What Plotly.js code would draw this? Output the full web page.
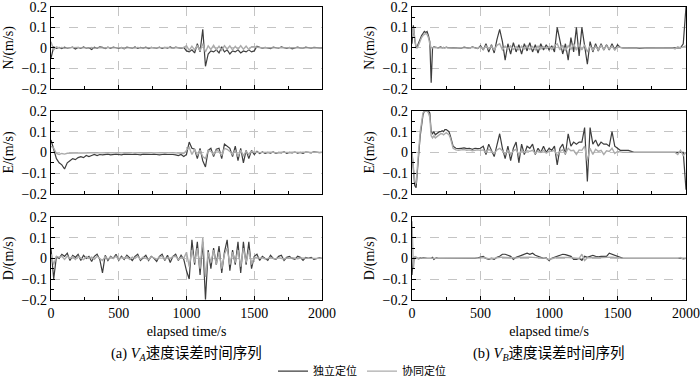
<!DOCTYPE html>
<html>
<head>
<meta charset="utf-8">
<script src="https://cdn.plot.ly/plotly-3.0.1.min.js"></script>
<style>html,body{margin:0;padding:0;background:#fff}#chart{width:700px;height:386px}</style>
</head>
<body>
<div id="chart"></div>
<script>
// time grids (s)
const timeA = []; for (let t = 0; t <= 2000; t += 20) timeA.push(t);
const timeB = []; for (let t = 0; t <= 300; t += 10) timeB.push(t); for (let t = 320; t <= 2000; t += 20) timeB.push(t);

const seriesNames = ['独立定位', '协同定位'];
const panelTitles = ['N/(m/s)', 'E/(m/s)', 'D/(m/s)'];
const xTickVals = [0, 500, 1000, 1500, 2000];
const yTickVals = [-0.2, -0.1, 0, 0.1, 0.2];
const yTickText = ['\u22120.2', '\u22120.1', '0', '0.1', '0.2'];
const captionA = '(a) <i>V</i><sub><i>A</i></sub>速度误差时间序列';
const captionB = '(b) <i>V</i><sub><i>B</i></sub>速度误差时间序列';
const xTitle = 'elapsed time/s';

// ---- (a) V_A ----
const aN_indep = [
 -0.05, 0.004, -0.003, 0.002, -0.004, 0.003, -0.002, 0.0, 0.003, -0.006,
 0.002, -0.003, 0.004, -0.002, 0.001, -0.008, 0.003, -0.002, 0.005, 0.002,
 -0.004, 0.003, -0.002, 0.004, 0.0, -0.003, 0.002, -0.005, 0.003, 0.001,
 -0.002, 0.004, -0.003, 0.002, -0.001, 0.003, -0.004, 0.002, 0.0, -0.002,
 0.003, -0.003, 0.002, -0.001, 0.004, -0.002, 0.003, 0.0, -0.003, 0.002,
 -0.015, -0.02, -0.01, -0.025, 0.02, -0.02, 0.09, -0.09, -0.03, -0.015,
 -0.02, -0.01, -0.025, 0.005, -0.02, -0.01, -0.03, -0.015, -0.02, -0.01,
 -0.025, -0.015, -0.02, -0.01, -0.02, -0.015,
 0.008, 0.003, -0.002, 0.002, 0.0, -0.004, 0.003, 0.0, -0.002, 0.005,
 0.0, -0.003, 0.002, -0.005, 0.0, 0.003, 0.0, -0.002, 0.003, 0.0,
 -0.002, 0.002, 0.0, 0.0, 0.0];
const aN_coop = [
 0.03, -0.01, 0.005, 0, 0.002, -0.002, 0, 0.001, -0.001, 0,
 0.002, 0, -0.001, 0.001, 0, 0.002, -0.002, 0, 0.001, 0,
 -0.001, 0.002, 0, -0.001, 0.001, 0, 0.001, -0.002, 0, 0.001,
 0, -0.001, 0.002, 0, -0.001, 0.001, 0, 0.002, -0.001, 0,
 0.001, -0.001, 0, 0.002, 0, -0.002, 0.001, 0, -0.001, 0.002,
 0.01, -0.012, 0.008, -0.01, 0.012, -0.015, 0.02, -0.02, 0.01, -0.008,
 0.012, -0.01, 0.008, -0.012, 0.01, -0.006, 0.009, -0.01, 0.007, -0.008,
 0.01, -0.007, 0.008, -0.009, 0.006, 0.005,
 0.002, 0, -0.001, 0.001, 0, 0.001, -0.001, 0, 0.001, 0,
 -0.001, 0, 0.001, 0, 0, 0.001, 0, -0.001, 0, 0.001,
 0, 0, 0, 0, 0];
const aE_indep = [
 0.06, 0.01, -0.03, -0.05, -0.06, -0.08, -0.05, -0.04, -0.03, -0.035,
 -0.025, -0.02, -0.025, -0.015, -0.02, -0.015, -0.01, -0.015, -0.01, -0.012,
 -0.01, -0.008, -0.012, -0.01, -0.008, -0.01, -0.012, -0.008, -0.01, -0.009,
 -0.01, -0.008, -0.01, -0.012, -0.008, -0.01, -0.009, -0.01, -0.008, -0.01,
 -0.012, -0.01, -0.008, -0.01, -0.009, -0.01, -0.012, -0.015, -0.01, -0.02,
 -0.01, 0.05, 0.02, 0.015, -0.03, 0.02, -0.04, -0.07, 0.01, 0.02,
 -0.02, 0.015, 0.02, -0.03, 0.04, 0.03, 0.02, -0.02, 0.03, -0.04,
 0.02, -0.05, 0.01, -0.03, 0.01, -0.01,
 0.005, -0.005, 0.002, -0.004, 0.0, -0.003, 0.002, -0.005, 0.0, -0.002,
 0.003, -0.004, 0.0, -0.002, 0.002, -0.003, 0.0, -0.004, 0.002, 0.0,
 -0.002, 0.003, 0.0, -0.001, 0.0];
const aE_coop = [
 0.03, 0.02, -0.005, -0.01, -0.005, -0.008, -0.004, -0.003, -0.002, -0.004,
 -0.003, -0.002, -0.003, -0.002, -0.001, -0.002, -0.002, -0.001, -0.002, -0.001,
 -0.002, -0.001, -0.002, -0.001, -0.002, -0.001, -0.002, -0.001, -0.002, -0.001,
 -0.002, -0.001, -0.002, -0.001, -0.002, -0.001, -0.002, -0.001, -0.002, -0.001,
 -0.002, -0.001, -0.002, -0.001, -0.002, -0.001, -0.002, -0.003, -0.002, -0.005,
 0.01, 0.025, -0.01, 0.015, -0.015, 0.01, -0.02, -0.03, 0.01, 0.005,
 -0.01, 0.01, 0.005, -0.015, 0.02, 0.015, 0.005, -0.01, 0.01, -0.02,
 0.01, -0.015, 0.005, -0.01, 0.005, 0.0,
 0.002, -0.001, 0, 0.001, -0.001, 0, 0.001, -0.002, 0, 0.001,
 0, -0.001, 0, 0.001, 0, -0.001, 0, 0.001, 0, -0.001,
 0, 0.001, 0, 0, 0];
const aD_indep = [
 0.05, -0.1, 0.01, 0.0, 0.02, 0.01, 0.025, -0.01, 0.015, 0.005,
 0.02, -0.01, 0.015, 0.0, 0.01, -0.015, 0.01, 0.02, -0.005, -0.07,
 0.015, -0.01, 0.01, 0.0, 0.02, -0.01, 0.01, -0.005, 0.015, 0.0,
 -0.01, 0.01, 0.02, -0.01, 0.005, 0.015, -0.01, 0.01, 0.0, -0.015,
 0.01, 0.02, -0.01, 0.015, -0.02, 0.01, 0.02, -0.01, 0.015, -0.005,
 -0.06, -0.1, 0.09, -0.03, 0.08, -0.08, 0.08, -0.2, 0.04, -0.05,
 0.05, -0.03, 0.06, -0.07, 0.03, 0.09, -0.06, 0.04, -0.03, 0.08,
 -0.07, 0.08, -0.03, 0.08, -0.05, 0.01,
 0.02, -0.01, 0.01, 0.0, -0.01, 0.015, 0.0, -0.005, 0.01, 0.015,
 -0.01, 0.005, 0.01, 0.0, -0.005, 0.01, 0.005, -0.01, 0.005, 0.0,
 0.005, -0.005, 0.0, 0.002, 0.0];
const aD_coop = [
 0.02, -0.03, 0.01, 0.005, 0.01, -0.005, 0.01, 0.0, 0.008, -0.005,
 0.01, 0.0, -0.006, 0.008, 0.0, 0.006, -0.004, 0.01, 0.0, -0.01,
 0.008, -0.004, 0.006, 0.0, 0.01, -0.006, 0.004, 0.0, 0.008, -0.005,
 0.006, 0.0, 0.01, -0.004, 0.006, 0.0, -0.006, 0.008, 0.0, -0.004,
 0.006, 0.01, -0.005, 0.004, 0.0, 0.008, 0.01, -0.006, 0.005, 0.0,
 0.03, -0.04, 0.04, -0.02, 0.05, -0.05, 0.1, -0.09, 0.03, -0.02,
 0.04, -0.03, 0.03, -0.05, 0.02, 0.05, -0.03, 0.03, -0.02, 0.04,
 -0.04, 0.05, -0.02, 0.04, -0.03, 0.005,
 0.005, 0.0, 0.003, -0.003, 0.0, 0.004, 0.0, -0.002, 0.003, 0.0,
 -0.003, 0.002, 0.0, 0.003, 0.0, -0.002, 0.002, 0.0, 0.001, 0.0,
 0.001, 0.0, 0.0, 0.0, 0.0];

// ---- (b) V_B ----
const bN_indep = [
 0.02, 0.11, 0.04, 0.0, 0.01, 0.03, 0.05, 0.06, 0.07, 0.08,
 0.075, 0.08, 0.06, 0.03, -0.17, 0.0, 0.005, 0.002, 0.003, 0.0,
 0.002, 0.004, 0.0, 0.002, 0.0, 0.003, 0.001, 0.0, 0.002, 0.0, 0.001,
 0.0, 0.002, -0.002, 0.003, 0.0, -0.003, 0.005, 0.0, -0.004,
 0.01, -0.01, 0.02, -0.02, 0.015, -0.025, 0.04, 0.09, 0.03, -0.06,
 0.02, -0.03, 0.025, -0.02, 0.015, -0.03, 0.02, -0.015, 0.025, -0.02,
 0.015, -0.025, 0.02, -0.01, 0.015, -0.01,
 0.01, -0.02, 0.1, 0.03, -0.03, 0.02, -0.06, 0.05, -0.02, 0.1,
 -0.04, 0.1, 0.02, -0.08, 0.03, -0.02, 0.02, -0.015, 0.02, -0.01,
 0.015, -0.01, 0.02, -0.01, 0.015,
 0.002, 0.0, 0.0, 0.001, 0.0, 0.0, 0.0, -0.003, 0.0, 0.0,
 0.0, 0.0, 0.0, 0.001, 0.0, 0.0, 0.0, 0.0, 0.0, 0.0,
 0.0, 0.0, 0.0, 0.02, 0.2];
const bN_coop = [
 0.05, 0.1, 0.05, 0.0, 0.0, 0.02, 0.04, 0.05, 0.06, 0.065,
 0.07, 0.065, 0.05, 0.02, 0.0, 0.0, 0.002, 0.0, 0.002, 0.0,
 0.001, 0.002, 0.0, 0.001, 0.0, 0.002, 0.0, 0.0, 0.001, 0.0, 0.0,
 0.0, 0.001, -0.001, 0.002, 0.0, -0.002, 0.003, 0.0, -0.002,
 0.005, -0.008, 0.01, -0.006, 0.008, -0.01, 0.012, 0.02, -0.01, 0.008,
 -0.006, 0.01, -0.008, 0.006, -0.01, 0.008, -0.006, 0.01, -0.008, 0.006,
 -0.01, 0.008, -0.006, 0.005, -0.004, 0.006,
 -0.008, 0.01, 0.02, -0.01, 0.012, -0.015, 0.01, -0.008, 0.02, -0.012,
 0.02, -0.01, 0.015, -0.02, 0.01, -0.012, 0.008, -0.01, 0.012, -0.008,
 0.01, -0.006, 0.008, -0.01, 0.005,
 0.001, 0.0, 0.0, 0.0, 0.0, 0.0, 0.0, 0.0, 0.0, 0.0,
 0.0, 0.0, 0.0, 0.0, 0.0, 0.0, 0.0, 0.0, 0.0, 0.0,
 -0.005, 0.005, 0.0, 0.005, 0.01];
const bE_indep = [
 0.0, -0.08, -0.16, -0.17, -0.1, 0.0, 0.08, 0.14, 0.18, 0.2,
 0.2, 0.2, 0.2, 0.19, 0.1, 0.09, 0.1, 0.085, 0.09, 0.095,
 0.1, 0.1, 0.105, 0.1, 0.11, 0.11, 0.105, 0.1, 0.08, 0.05, 0.03,
 0.02, 0.018, 0.02, 0.022, 0.018, 0.02, 0.015, 0.02, 0.018,
 0.02, 0.03, -0.01, 0.04, 0.01, -0.02, 0.035, 0.09, 0.02, -0.03,
 0.03, -0.04, 0.02, 0.05, -0.05, 0.04, -0.01, 0.03, 0.02, 0.04,
 -0.01, 0.02, 0.0, 0.03, 0.0, 0.02,
 0.01, 0.03, -0.06, 0.02, 0.04, -0.01, 0.09, 0.03, 0.05, 0.04,
 0.05, 0.05, 0.12, -0.14, 0.12, 0.04, 0.06, 0.03, 0.05, 0.04,
 0.04, 0.03, 0.1, 0.03, 0.02,
 0.01, 0.01, 0.01, 0.01, 0.005, 0.0, 0.0, 0.0, 0.0, 0.0,
 0.0, 0.0, 0.0, 0.0, 0.0, 0.0, 0.0, 0.0, 0.0, 0.0,
 0.0, 0.0, 0.0, 0.0, -0.18];
const bE_coop = [
 0.0, -0.06, -0.14, -0.15, -0.08, 0.02, 0.1, 0.15, 0.19, 0.2,
 0.2, 0.2, 0.19, 0.17, 0.08, 0.07, 0.08, 0.07, 0.075, 0.08,
 0.085, 0.09, 0.09, 0.085, 0.09, 0.095, 0.09, 0.085, 0.07, 0.04, 0.02,
 0.012, 0.01, 0.012, 0.014, 0.01, 0.012, 0.008, 0.01, 0.012,
 0.01, 0.012, 0.0, 0.015, 0.005, -0.005, 0.012, 0.02, 0.008, -0.008,
 0.01, -0.01, 0.008, 0.015, -0.012, 0.01, 0.0, 0.008, 0.005, 0.01,
 -0.005, 0.008, 0.0, 0.01, -0.003, 0.005,
 0.005, 0.01, -0.015, 0.005, 0.012, -0.005, 0.02, 0.008, 0.01, -0.01,
 0.012, 0.01, 0.03, -0.04, 0.02, -0.01, 0.015, 0.005, 0.01, -0.01,
 0.008, 0.005, 0.02, -0.005, 0.005,
 0.002, 0.0, 0.0, 0.0, 0.0, 0.0, 0.0, 0.0, 0.0, 0.0,
 0.0, 0.0, 0.0, 0.0, 0.0, 0.0, 0.0, 0.0, 0.0, 0.0,
 0.0, -0.01, 0.01, -0.015, 0.0];
const bD_indep = [
 -0.08, 0.005, 0.0, 0.005, 0.0, -0.002, 0.003, 0.0, 0.002, 0.0,
 0.001, 0.0, 0.0, 0.002, 0.0, 0.005, -0.005, 0.0, 0.002, 0.0,
 0.0, 0.001, 0.0, 0.0, 0.0, 0.0, 0.0, 0.0, 0.0, 0.0, 0.0,
 0.0, 0.0, 0.0, 0.0, 0.0, 0.0, -0.002, 0.0, 0.003,
 0.005, 0.01, 0.0, -0.005, 0.0, -0.005, 0.005, 0.01, 0.02, 0.02,
 0.015, 0.01, -0.005, 0.005, 0.01, 0.015, 0.02, 0.025, 0.02, 0.025,
 0.015, 0.01, 0.005, 0.0, 0.002, -0.01,
 0.0, 0.005, 0.01, 0.015, 0.02, 0.018, 0.015, 0.01, -0.005, -0.005,
 0.0, -0.01, 0.01, 0.005, 0.01, 0.015, 0.01, 0.008, 0.01, 0.01,
 0.01, 0.025, 0.02, 0.015, 0.01,
 0.005, 0.0, 0.0, 0.0, 0.0, 0.0, 0.0, 0.0, 0.0, 0.0,
 0.0, 0.0, 0.0, 0.0, 0.0, 0.0, 0.0, 0.0, 0.0, 0.0,
 0.0, 0.0, 0.0, 0.0, 0.0];
const bD_coop = [
 0.18, -0.05, 0.01, 0.005, 0.0, 0.002, 0.0, 0.001, 0.0, 0.0,
 0.002, 0.0, 0.0, 0.001, 0.0, 0.0, 0.0, 0.001, 0.0, 0.0,
 0.0, 0.0, 0.0, 0.0, 0.0, 0.0, 0.0, 0.0, 0.0, 0.0, 0.0,
 0.0, 0.0, 0.0, 0.0, 0.0, 0.0, 0.0, 0.0, 0.002,
 0.002, 0.004, 0.0, -0.002, 0.002, 0.0, 0.003, 0.005, 0.006, 0.005,
 0.004, 0.003, 0.0, 0.002, 0.004, 0.005, 0.006, 0.008, 0.006, 0.005,
 0.004, 0.003, 0.002, 0.0, 0.0, -0.005,
 0.0, 0.002, 0.004, 0.005, 0.006, 0.005, 0.004, 0.003, 0.0, -0.002,
 0.0, 0.02, -0.01, 0.003, 0.004, 0.005, 0.004, 0.003, 0.004, 0.003,
 0.004, 0.008, 0.006, 0.004, 0.002,
 0.001, 0.0, 0.0, 0.0, 0.0, 0.0, 0.0, 0.0, 0.0, 0.0,
 0.0, 0.0, 0.0, 0.0, 0.0, 0.0, 0.0, 0.0, 0.0, 0.0,
 0.0, 0.0, 0.004, -0.004, 0.0];

const darkColor = '#3d3d3d';
const lightColor = '#ababab';
const serif = 'Liberation Serif';
const cjk = 'Liberation Serif, Noto Sans CJK SC';

const panels = [
  {t: timeA, d: aN_indep, c: aN_coop},
  {t: timeA, d: aE_indep, c: aE_coop},
  {t: timeA, d: aD_indep, c: aD_coop},
  {t: timeB, d: bN_indep, c: bN_coop},
  {t: timeB, d: bE_indep, c: bE_coop},
  {t: timeB, d: bD_indep, c: bD_coop}
];

const W = 700, H = 386;
const colX = [[51, 322], [412, 686]];
const rowY = [[7, 90.7], [113.3, 198], [221.7, 306]];

const traces = [];
const layout = {
  width: W, height: H,
  margin: {l: 0, r: 0, t: 0, b: 0},
  paper_bgcolor: '#fff', plot_bgcolor: '#fff',
  font: {family: serif, size: 14, color: '#000'},
  showlegend: true,
  legend: {orientation: 'h', x: 0.5 + 12 / W, xanchor: 'center', y: 1 - 379 / H, yanchor: 'middle',
           font: {family: cjk, size: 11, color: '#000'}, itemwidth: 30, bgcolor: 'rgba(0,0,0,0)',
           traceorder: 'normal', tracegroupgap: 0, itemclick: false},
  annotations: []
};

panels.forEach((p, k) => {
  const col = Math.floor(k / 3), row = k % 3;
  const n = k + 1;
  const xa = 'x' + (n === 1 ? '' : n), ya = 'y' + (n === 1 ? '' : n);
  traces.push({x: p.t, y: p.d, type: 'scatter', mode: 'lines', name: seriesNames[0],
    line: {color: darkColor, width: 1.2}, xaxis: xa, yaxis: ya, showlegend: k === 0});
  traces.push({x: p.t, y: p.c, type: 'scatter', mode: 'lines', name: seriesNames[1],
    line: {color: lightColor, width: 1.4}, xaxis: xa, yaxis: ya, showlegend: k === 0});
  const xName = 'xaxis' + (n === 1 ? '' : n), yName = 'yaxis' + (n === 1 ? '' : n);
  const xax = {
    domain: [colX[col][0] / W, colX[col][1] / W], anchor: ya,
    range: [0, 2000], tickmode: 'array', tickvals: xTickVals,
    showticklabels: row === 2, ticks: 'inside', ticklen: 4, tickcolor: '#000',
    minor: {ticks: 'inside', dtick: 250, tick0: 0, ticklen: 3, tickcolor: '#000', showgrid: false},
    showgrid: true, griddash: 'dash', gridcolor: '#c4c4c4', gridwidth: 1,
    showline: true, linecolor: '#000', linewidth: 1.3, mirror: true, zeroline: false,
    automargin: false, ticklabeloverflow: 'allow', tickfont: {family: serif, size: 14}
  };
  if (row === 2) xax.title = {text: xTitle, font: {family: serif, size: 14}, standoff: 6};
  layout[xName] = xax;
  layout[yName] = {
    domain: [1 - rowY[row][1] / H, 1 - rowY[row][0] / H], anchor: xa,
    range: [-0.2, 0.2], tickmode: 'array', tickvals: yTickVals, ticktext: yTickText,
    ticks: 'inside', ticklen: 4, tickcolor: '#000',
    minor: {ticks: 'inside', dtick: 0.05, tick0: 0, ticklen: 3, tickcolor: '#000', showgrid: false},
    showgrid: true, griddash: 'dash', gridcolor: '#c4c4c4', gridwidth: 1,
    showline: true, linecolor: '#000', linewidth: 1.3, mirror: true, zeroline: false,
    automargin: false, ticklabeloverflow: 'allow', tickfont: {family: serif, size: 14},
    title: {text: panelTitles[row], font: {family: serif, size: 14}, standoff: 4}
  };
});

layout.annotations.push({xref: 'paper', yref: 'paper', x: (colX[0][0] + colX[0][1]) / 2 / W, y: 1 - 361 / H,
  xanchor: 'center', yanchor: 'middle', showarrow: false, text: captionA, font: {family: cjk, size: 14.5}});
layout.annotations.push({xref: 'paper', yref: 'paper', x: (colX[1][0] + colX[1][1]) / 2 / W, y: 1 - 361 / H,
  xanchor: 'center', yanchor: 'middle', showarrow: false, text: captionB, font: {family: cjk, size: 14.5}});

Plotly.newPlot('chart', traces, layout, {staticPlot: true, displayModeBar: false});
</script>
</body>
</html>
